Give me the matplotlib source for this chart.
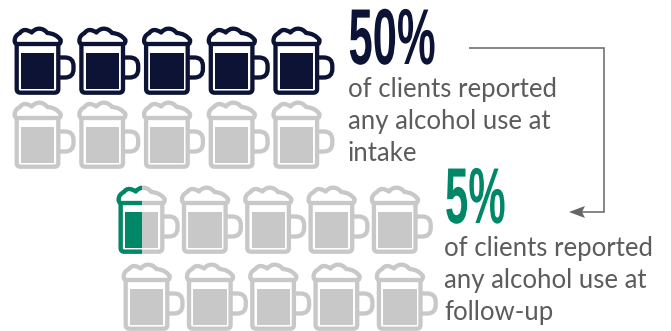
import matplotlib
matplotlib.use('Agg')
import matplotlib.pyplot as plt
from matplotlib.path import Path
from matplotlib.patches import PathPatch, Polygon, Rectangle
from matplotlib.patheffects import AbstractPathEffect
from matplotlib.transforms import Affine2D

# Share of clients reporting alcohol use at each time point
percents = [50, 5]
percent_labels = ['50%', '5%']
captions = ['of clients reported\nany alcohol use at\nintake',
            'of clients reported\nany alcohol use at\nfollow-up']
colors = ['#0c1335', '#008767']
mugs_per_block = 10

GREY = '#c8c8c8'
TEXT_GREY = '#5c5c5c'
ARROW_GREY = '#666666'

# mug icon, in pixels from the top left of its foam
FOAM_WIDTH = 50
STROKE = 3.1
M, Q, L, C = Path.MOVETO, Path.CURVE3, Path.LINETO, Path.CLOSEPOLY
FOAM = Path([(3.5, 17), (1.5, 16.5), (1.7, 13.5), (1.7, 8.5), (7, 6), (8.5, 3), (12, 3), (15.5, 3), (18.7, 5.5),
             (22, 1.5), (26.3, 1.7), (31, 1.7), (34.3, 6), (43, 6.5), (47.7, 13), (48, 17), (45.5, 17),
             (3.5, 17), (3.5, 17)],
            [M, Q, Q, Q, Q, Q, Q, Q, Q, Q, Q, Q, Q, Q, Q, Q, Q, L, C])
HANDLE = Path([(45, 30.5), (52, 30.5), (60.5, 30.5), (60.5, 39), (60.5, 42), (60.5, 50.5), (52, 50.5), (45, 50.5)],
              [M, L, Q, Q, L, Q, Q, L])
BODY = Path([(3.7, 17), (3.7, 62), (3.7, 65.7), (7.5, 65.7), (41.5, 65.7), (45.3, 65.7), (45.3, 62), (45.3, 17)],
            [M, L, Q, Q, L, Q, Q, L])
BEER = Path([(8, 25.7), (41.3, 25.7), (41.3, 62.3), (8, 62.3), (8, 25.7)], closed=True)


class SqueezeX(AbstractPathEffect):
    # narrows the glyphs around a fixed display x, for the condensed headline look
    def __init__(self, factor, x0):
        super().__init__()
        self.factor = factor
        self.x0 = x0

    def draw_path(self, renderer, gc, tpath, affine, rgbFace=None):
        squeeze = Affine2D().translate(-self.x0, 0).scale(self.factor, 1).translate(self.x0, 0)
        renderer.draw_path(gc, tpath, affine + squeeze, rgbFace)


def draw_mug(ax, x, y, color, clip_frac=1.0):
    place = Affine2D().translate(x, y) + ax.transData
    clip = None
    if clip_frac < 1:
        clip = Rectangle((x - 5, y - 5), clip_frac * FOAM_WIDTH + 5, 85, transform=ax.transData)
    parts = [PathPatch(HANDLE, fill=False, ec=color, lw=STROKE, capstyle='butt'),
             PathPatch(BODY, fill=False, ec=color, lw=STROKE),
             PathPatch(BEER, fc=color, ec='none'),
             PathPatch(FOAM, fc='white', ec=color, lw=STROKE, joinstyle='round')]
    for part in parts:
        part.set_transform(place)
        ax.add_patch(part)
        if clip is not None:
            part.set_clip_path(clip)


def draw_block(ax, percent, color, origins, step):
    filled = percent / 100 * mugs_per_block
    i = 0
    for x0, y0 in origins:
        for col in range(mugs_per_block // 2):
            x = x0 + col * step
            frac = min(max(filled - i, 0), 1)
            if frac < 1:
                draw_mug(ax, x, y0, GREY)
            if frac > 0:
                draw_mug(ax, x, y0, color, frac)
            i += 1


fig = plt.figure(figsize=(6.71, 3.31), dpi=100)
ax = fig.add_axes([0, 0, 1, 1])
ax.set_xlim(0, 671)
ax.set_ylim(331, 0)
ax.axis('off')

draw_block(ax, percents[0], colors[0], [(13, 27), (13, 101)], 64.7)
draw_block(ax, percents[1], colors[1], [(117, 186), (122, 263)], 63.3)

# big percentages and captions
for label, caption, color, x, base, squeeze, cap_base in zip(
        percent_labels, captions, colors, [348.5, 445], [64, 223], [0.55, 0.53], [97, 256]):
    x_disp = ax.transData.transform((x, base))[0]
    t = ax.text(x, base, label, color=color, fontsize=57, fontweight='bold',
                family='Liberation Sans', ha='left', va='baseline')
    t.set_path_effects([SqueezeX(squeeze, x_disp)])
    for j, line in enumerate(caption.split('\n')):
        ax.text(x - 1, cap_base + j * 32, line, color=TEXT_GREY, fontsize=18.5,
                family='Lato', ha='left', va='baseline')

# connector from the first figure down to the second
ax.plot([469, 604, 604, 582], [48, 48, 212, 212], color=ARROW_GREY, lw=1.1,
        solid_joinstyle='miter', solid_capstyle='butt')
ax.add_patch(Polygon([(569, 212), (585, 206), (582, 212), (585, 218)], closed=True,
                     fc=ARROW_GREY, ec='none'))

fig.savefig('out.png', dpi=100)
